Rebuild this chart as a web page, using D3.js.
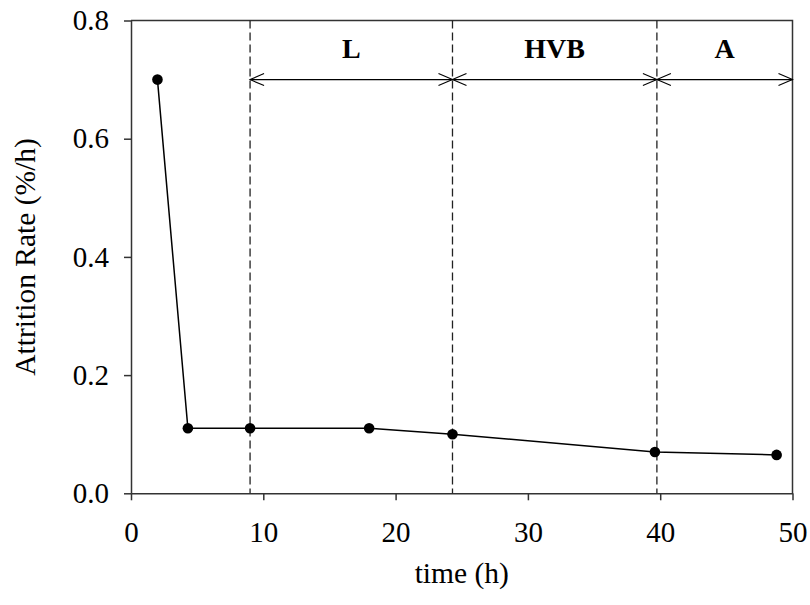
<!DOCTYPE html>
<html>
<head>
<meta charset="utf-8">
<script src="https://cdn.jsdelivr.net/npm/d3@7"></script>
<style>
  body { margin: 0; background: #fff; }
  svg { display: block; }
</style>
</head>
<body>
<div id="chart-area"></div>
<script>
// data
var timeH = [2, 4.3, 9, 18, 24.3, 39.6, 48.8];
var attrition = [0.70, 0.11, 0.11, 0.11, 0.10, 0.07, 0.065];
var xTicks = [0, 10, 20, 30, 40, 50];
var yTicks = [0, 0.2, 0.4, 0.6, 0.8];
var phaseBounds = [9, 24.3, 39.75, 50]; // dashed boundaries + right end
var phaseNames = ["L", "HVB", "A"];
var arrowLevel = 0.7;

var svg_x = 810, svg_y = 605;
var margin = {left: 131, right: 17.5, top: 20.5, bottom: 111.7};
var width = svg_x - margin.left - margin.right;
var height = svg_y - margin.top - margin.bottom;

var font = "'Liberation Serif', 'Times New Roman', serif";
var axisColor = "#333";

var svg = d3.select("#chart-area").append("svg")
  .attr("width", svg_x)
  .attr("height", svg_y);

var g = svg.append("g")
  .attr("transform", "translate(" + margin.left + "," + margin.top + ")");

// scales
var x = d3.scaleLinear().domain([0, 50]).range([0, width]);
var y = d3.scaleLinear().domain([0, 0.8]).range([height, 0]);

// frame (top + right)
g.append("path")
  .attr("d", "M0,0H" + width + "V" + height)
  .attr("fill", "none")
  .attr("stroke", axisColor)
  .attr("stroke-width", 1.5);

// axes
var xAxisCall = d3.axisBottom(x)
  .tickValues(xTicks)
  .tickFormat(d3.format("d"))
  .tickSizeInner(7).tickSizeOuter(0)
  .tickPadding(21);
var xAxis = g.append("g")
  .attr("transform", "translate(0," + height + ")")
  .call(xAxisCall);

var yAxisCall = d3.axisLeft(y)
  .tickValues(yTicks)
  .tickFormat(d3.format(".1f"))
  .tickSizeInner(7).tickSizeOuter(0)
  .tickPadding(15);
var yAxis = g.append("g").call(yAxisCall);

[xAxis, yAxis].forEach(function(a) {
  a.select(".domain").attr("stroke", axisColor).attr("stroke-width", 1.5);
  a.selectAll(".tick line").attr("stroke", axisColor).attr("stroke-width", 1.5);
  a.selectAll(".tick text")
    .attr("fill", "#000")
    .style("font-family", font)
    .style("font-size", "29px");
});

// dashed phase boundaries
g.selectAll(".phase-line")
  .data(phaseBounds.slice(0, 3))
  .enter().append("line")
  .attr("class", "phase-line")
  .attr("x1", d => x(d)).attr("x2", d => x(d))
  .attr("y1", 0).attr("y2", height)
  .attr("stroke", "#222")
  .attr("stroke-width", 1.3)
  .attr("stroke-dasharray", "8,4");

// double arrows for each phase
var ay = y(arrowLevel);
g.append("line")
  .attr("x1", x(phaseBounds[0])).attr("x2", x(phaseBounds[3]))
  .attr("y1", ay).attr("y2", ay)
  .attr("stroke", "#000")
  .attr("stroke-width", 1.2);

var heads = [];
for (var i = 0; i < phaseNames.length; i++) {
  heads.push({pos: phaseBounds[i], dir: 1});      // "<" at the left end
  heads.push({pos: phaseBounds[i + 1], dir: -1}); // ">" at the right end
}
g.selectAll(".arrowhead")
  .data(heads)
  .enter().append("path")
  .attr("class", "arrowhead")
  .attr("d", d => {
    var px = x(d.pos);
    return "M" + (px + d.dir * 14) + "," + (ay - 6) + "L" + px + "," + ay + "L" + (px + d.dir * 14) + "," + (ay + 6);
  })
  .attr("fill", "none")
  .attr("stroke", "#000")
  .attr("stroke-width", 1.1);

// phase labels
g.selectAll(".phase-label")
  .data(phaseNames)
  .enter().append("text")
  .attr("class", "phase-label")
  .attr("x", (d, i) => x((phaseBounds[i] + phaseBounds[i + 1]) / 2))
  .attr("y", 37)
  .attr("text-anchor", "middle")
  .style("font-family", font)
  .style("font-size", "28px")
  .style("font-weight", "bold")
  .text(d => d);

// data line + markers
var pts = timeH.map((t, i) => ({t: t, v: attrition[i]}));
var line = d3.line().x(d => x(d.t)).y(d => y(d.v));
g.append("path")
  .datum(pts)
  .attr("d", line)
  .attr("fill", "none")
  .attr("stroke", "#000")
  .attr("stroke-width", 1.5);

g.selectAll("circle")
  .data(pts)
  .enter().append("circle")
  .attr("cx", d => x(d.t))
  .attr("cy", d => y(d.v))
  .attr("r", 5.3)
  .attr("fill", "#000");

// axis titles
g.append("text")
  .attr("x", width / 2)
  .attr("y", height + 90)
  .attr("text-anchor", "middle")
  .style("font-family", font)
  .style("font-size", "29.5px")
  .text("time (h)");

g.append("text")
  .attr("transform", "rotate(-90)")
  .attr("x", -height / 2)
  .attr("y", 35 - margin.left)
  .attr("text-anchor", "middle")
  .style("font-family", font)
  .style("font-size", "29.5px")
  .text("Attrition Rate (%/h)");
</script>
</body>
</html>
